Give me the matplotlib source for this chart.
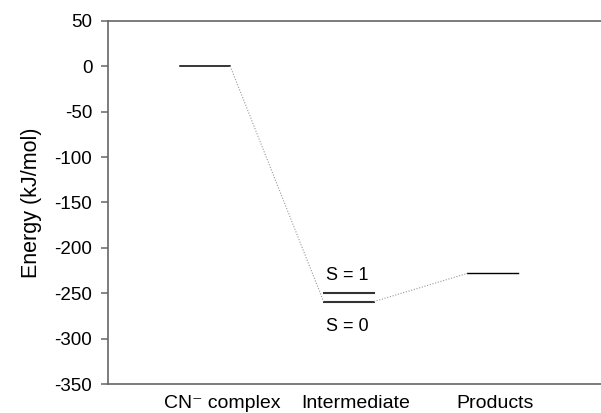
import matplotlib
matplotlib.use('Agg')
import matplotlib.pyplot as plt

# Energy levels (kJ/mol)
stages = ['CN\u207b complex', 'Intermediate', 'Products']
stage_x = [1, 2, 3]
e_complex = 0
e_int_s1 = -250
e_int_s0 = -259
e_products = -228
yticks = [50, 0, -50, -100, -150, -200, -250, -300, -350]

plt.rcParams['font.family'] = ['Liberation Sans', 'DejaVu Sans']

fig = plt.figure(figsize=(6.01, 4.13), dpi=100)
ax = fig.add_axes([0.179, 0.0695, 0.821, 0.8805])

hw = 0.175  # half width of each level bar
# level bars
ax.plot([stage_x[0] - hw, stage_x[0] + hw], [e_complex, e_complex], color='black', lw=1.1)
ax.plot([stage_x[1] - hw, stage_x[1] + hw], [e_int_s1, e_int_s1], color='#333333', lw=1.5)
ax.plot([stage_x[1] - hw, stage_x[1] + hw], [e_int_s0, e_int_s0], color='#333333', lw=1.5)
ax.plot([stage_x[2] - hw, stage_x[2] + hw], [e_products, e_products], color='black', lw=1.0)

# dotted connectors
ax.plot([stage_x[0] + hw, stage_x[1] - hw], [e_complex, e_int_s0], color='#999999', lw=0.8, ls=(0, (1, 1.5)))
ax.plot([stage_x[1] + hw, stage_x[2] - hw], [e_int_s0, e_products], color='#999999', lw=0.8, ls=(0, (1, 1.5)))

# spin state labels
ax.text(stage_x[1] - 0.01, e_int_s1 + 20, 'S = 1', ha='center', va='center', fontsize=13)
ax.text(stage_x[1] - 0.01, e_int_s0 - 27, 'S = 0', ha='center', va='center', fontsize=13)

ax.set_xlim(0.322, 3.755)
ax.set_ylim(-350, 50)
ax.set_yticks(yticks)
ax.set_yticklabels([str(t) for t in yticks])
ax.set_xticks([1.118, 2.05, 3.017])
ax.set_xticklabels(stages, fontsize=14)
ax.tick_params(axis='x', length=0, pad=8)
ax.tick_params(axis='y', length=5, width=1.1, color='#666666', labelsize=13.5, pad=6)
ax.set_ylabel('Energy (kJ/mol)', fontsize=15.5, labelpad=9)

for side in ['left', 'top', 'bottom']:
    ax.spines[side].set_color('#666666')
    ax.spines[side].set_linewidth(1.2)
ax.spines['right'].set_visible(False)

fig.savefig('out.png', dpi=100)
